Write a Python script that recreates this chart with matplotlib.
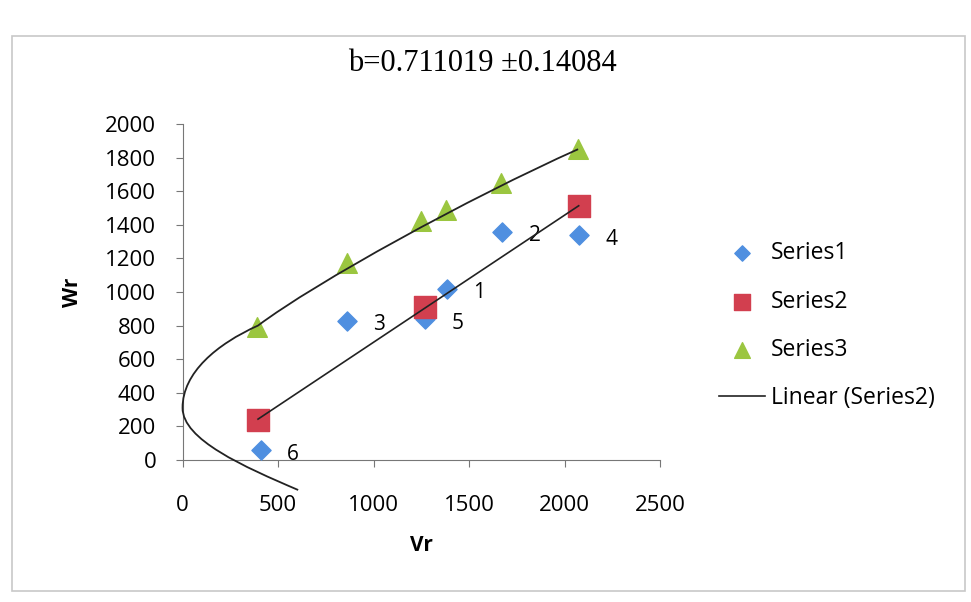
import numpy as np
import matplotlib
matplotlib.use("Agg")
from matplotlib import pyplot as plt
from matplotlib.path import Path
from matplotlib.patches import PathPatch, Rectangle

# data
s1_x = [1384, 1673, 858, 2073, 1268, 410]
s1_y = [1020, 1360, 830, 1340, 840, 60]
s1_labels = ["1", "2", "3", "4", "5", "6"]

s2_x = [395, 1268, 2073]
s2_y = [240, 910, 1510]

s3_x = [390, 858, 1247, 1379, 1668, 2068]
s3_y = [790, 1170, 1420, 1490, 1650, 1850]

# hand drawn curve through series3 (bezier anchor / control points)
curve_pts = [(605, -179), (320, -40), (0, 120), (0, 310),
             (0, 520), (180, 690), (395, 800),
             (700, 1060), (1500, 1560), (2070, 1850)]

title = "b=0.711019 \u00b10.14084"

plt.rcParams['font.family'] = ['Open Sans', 'DejaVu Sans']

fig = plt.figure(figsize=(9.71, 6.02), dpi=100)
fig.patches.append(Rectangle((0.012, 0.018), 0.982, 0.922, transform=fig.transFigure,
                             fill=False, edgecolor='#c8c8c8', lw=1.2))

ax = fig.add_axes([0.188, 0.236, 0.492, 0.558])
ax.set_xlim(0, 2500)
ax.set_ylim(0, 2000)

ax.scatter(s1_x, s1_y, marker='D', s=95, color='#4f8fe0', label='Series1', zorder=3)
ax.scatter(s2_x, s2_y, marker='s', s=230, color='#d23f4f', label='Series2', zorder=3)
ax.scatter(s3_x, s3_y, marker='^', s=200, color='#9bc640', label='Series3', zorder=3)

for x, y, t in zip(s1_x, s1_y, s1_labels):
    ax.annotate(t, (x, y), xytext=(19, -7), textcoords='offset points', fontsize=15)

# linear trendline for series2
k, b = np.polyfit(s2_x, s2_y, 1)
xs = np.array([min(s2_x), max(s2_x)])
ax.plot(xs, k * xs + b, color='#222222', lw=1.2, label='Linear (Series2)', zorder=4)

codes = [Path.MOVETO] + [Path.CURVE4] * (len(curve_pts) - 1)
ax.add_patch(PathPatch(Path(curve_pts, codes), fill=False, edgecolor='#222222',
                       lw=1.3, clip_on=False, zorder=4))

for side in ['top', 'right']:
    ax.spines[side].set_visible(False)
ax.spines['left'].set_color('#777777')
ax.spines['bottom'].set_color('#777777')
ax.set_xticks(np.arange(0, 2501, 500))
ax.set_yticks(np.arange(0, 2001, 200))
ax.tick_params(axis='y', labelsize=16, length=5, color='#777777', pad=14)
ax.tick_params(axis='x', labelsize=16, length=5, color='#777777', pad=20)

ax.set_xlabel('Vr', fontsize=15, fontweight='bold', labelpad=14)
ax.set_ylabel('Wr', fontsize=15, fontweight='bold', labelpad=16)

fig.text(0.497, 0.895, title, ha='center', va='center', fontsize=22,
         family='Liberation Serif')

ax.legend(loc='center left', bbox_to_anchor=(1.08, 0.4), frameon=False,
          fontsize=16.5, labelspacing=1.05, handlelength=2.0, scatterpoints=1,
          markerscale=0.8, handletextpad=0.25)

plt.savefig('out.png')
